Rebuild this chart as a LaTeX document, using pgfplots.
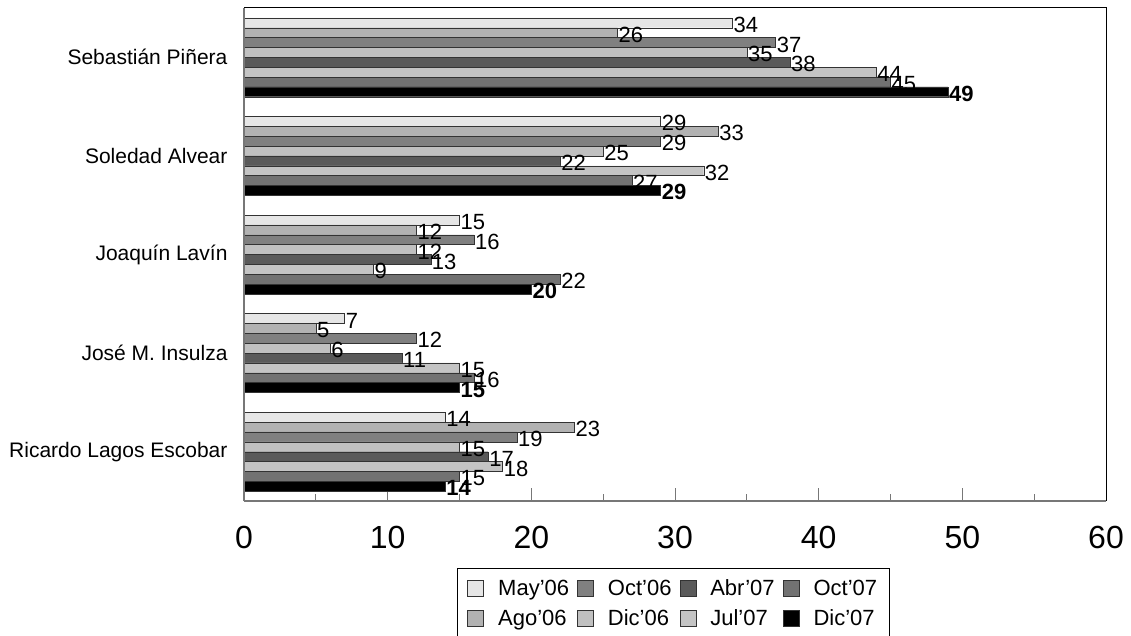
\documentclass[border=0pt]{standalone}
\usepackage{pgfplots}
\pgfplotsset{compat=1.18}
\usepackage{fontspec}
\setmainfont{Liberation Sans}
\definecolor{cA}{HTML}{E6E6E6}
\definecolor{cB}{HTML}{B2B2B2}
\definecolor{cC}{HTML}{808080}
\definecolor{cD}{HTML}{C0C0C0}
\definecolor{cE}{HTML}{5A5A5A}
\definecolor{cF}{HTML}{C4C4C4}
\definecolor{cG}{HTML}{727272}
\definecolor{cH}{HTML}{000000}
\definecolor{barline}{HTML}{333333}
\definecolor{axgray}{HTML}{777777}
\begin{document}
\begin{tikzpicture}
\begin{axis}[
  at={(244pt,-8pt)}, anchor=north west,
  scale only axis, width=862pt, height=493pt,
  xbar, bar width=0.1,
  xmin=0, xmax=60, ymin=-0.5, ymax=4.5,
  clip=false,
  /pgf/number format/assume math mode=true,
  axis line style={draw=none},
  ytick={0,1,2,3,4},
  yticklabels={Ricardo Lagos Escobar, José M. Insulza, Joaquín Lavín, Soledad Alvear, Sebastián Piñera},
  ytick style={draw=none},
  yticklabel style={font=\fontsize{21}{25}\selectfont, xshift=-13pt},
  xtick={0,10,...,60}, minor xtick={5,15,...,55},
  xtick pos=lower, tick align=inside,
  major tick length=13pt, minor tick length=7pt,
  xtick style={axgray, line width=1pt},
  xticklabel style={font=\fontsize{32}{32}\selectfont, yshift=-22pt},
  nodes near coords,
  nodes near coords style={font=\fontsize{22}{26}\selectfont, anchor=west, inner sep=1pt, yshift=-2pt},
  legend image code/.code={\draw[#1] (0pt,-8pt) rectangle (16pt,8pt);},
  legend style={at={(axis description cs:0.2471,-0.1359)}, anchor=north west,
    legend columns=4, font=\fontsize{22}{26}\selectfont, draw=black, line width=0.8pt,
    row sep=9pt, inner xsep=10pt, inner ysep=9pt,
    /tikz/every even column/.append style={column sep=6pt},
    /tikz/every odd column/.append style={column sep=12pt}},
  legend cell align=left,
]
\addplot[forget plot, fill=cA, draw=barline, bar shift=0.35] coordinates {(34,4) (29,3) (15,2) (7,1) (14,0)};
\addplot[forget plot, fill=cB, draw=barline, bar shift=0.25] coordinates {(26,4) (33,3) (12,2) (5,1) (23,0)};
\addplot[forget plot, fill=cC, draw=barline, bar shift=0.15] coordinates {(37,4) (29,3) (16,2) (12,1) (19,0)};
\addplot[forget plot, fill=cD, draw=barline, bar shift=0.05] coordinates {(35,4) (25,3) (12,2) (6,1) (15,0)};
\addplot[forget plot, fill=cE, draw=barline, bar shift=-0.05] coordinates {(38,4) (22,3) (13,2) (11,1) (17,0)};
\addplot[forget plot, fill=cF, draw=barline, bar shift=-0.15] coordinates {(44,4) (32,3) (9,2) (15,1) (18,0)};
\addplot[forget plot, fill=cG, draw=barline, bar shift=-0.25] coordinates {(45,4) (27,3) (22,2) (16,1) (15,0)};
\addplot[forget plot, fill=cH, draw=barline, bar shift=-0.35,
  nodes near coords style={font=\fontsize{22}{26}\selectfont\bfseries}] coordinates {(49,4) (29,3) (20,2) (15,1) (14,0)};
\draw[black, line width=1pt] (axis description cs:0,1) -- (axis description cs:1,1) -- (axis description cs:1,0);
\draw[axgray, line width=1.2pt] (axis description cs:0,0) -- (axis description cs:0,1);
\draw[axgray, line width=1.2pt] (axis description cs:0,0) -- (axis description cs:1,0);
\addlegendimage{fill=cA, draw=barline}
\addlegendimage{fill=cC, draw=barline}
\addlegendimage{fill=cE, draw=barline}
\addlegendimage{fill=cG, draw=barline}
\addlegendimage{fill=cB, draw=barline}
\addlegendimage{fill=cD, draw=barline}
\addlegendimage{fill=cF, draw=barline}
\addlegendimage{fill=cH, draw=barline}
\legend{May'06, Oct'06, Abr'07, Oct'07, Ago'06, Dic'06, Jul'07, Dic'07}
\end{axis}
\pgfresetboundingbox
\path[use as bounding box] (0,0) rectangle (1131pt,-636pt);
\end{tikzpicture}
\end{document}
